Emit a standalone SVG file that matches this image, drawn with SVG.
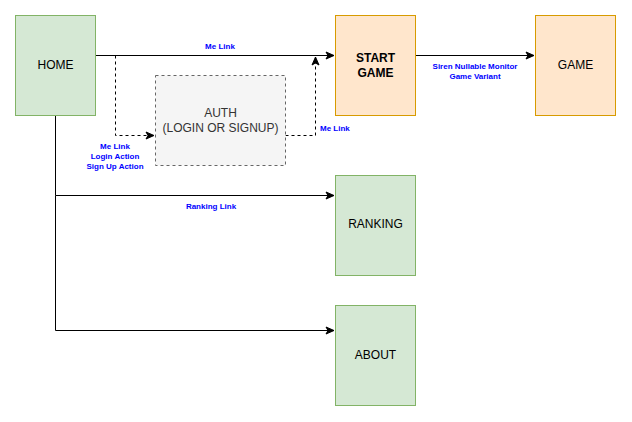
<svg xmlns="http://www.w3.org/2000/svg" width="632" height="422" viewBox="0 0 632 422">
<style>
.green{fill:#d5e8d4;stroke:#82b366;stroke-width:1}
.orange{fill:#ffe6cc;stroke:#d79b00;stroke-width:1}
.gray{fill:#f5f5f5;stroke:#666666;stroke-width:1;stroke-dasharray:3 3}
.nt{font-family:"Liberation Sans",Arial,sans-serif;font-size:12px;fill:#000;text-anchor:middle}
.b{font-weight:bold}
.gt{fill:#333333}
.lbl{font-family:"Liberation Sans",Arial,sans-serif;font-size:8px;font-weight:bold;fill:#0000ff;text-anchor:middle}
.e{fill:none;stroke:#000;stroke-width:1}
.d{stroke-dasharray:3 3}
</style>
<defs>
<marker id="arr" markerUnits="userSpaceOnUse" markerWidth="10" markerHeight="10" viewBox="0 0 10 10" refX="9" refY="5" orient="auto">
<path d="M1,1.5 L9,5 L1,8.5 L3,5 Z" fill="#000" stroke="#000" stroke-width="1"/>
</marker>
</defs>
<g id="connectors">
<path class="e" d="M95.5,55.5 H334" marker-end="url(#arr)"/>
<path class="e d" d="M115.5,55.5 V135.5 H154" marker-end="url(#arr)"/>
<path class="e d" d="M285.5,135.5 H315.5 V57" marker-end="url(#arr)"/>
<path class="e" d="M415.5,55.5 H534" marker-end="url(#arr)"/>
<path class="e" d="M55.5,115.5 V195.5 H334" marker-end="url(#arr)"/>
<path class="e" d="M55.5,195.5 V330.5 H334" marker-end="url(#arr)"/>
<text class="lbl" x="220" y="49">Me Link</text>
<text class="lbl" x="115" y="149">Me Link</text>
<text class="lbl" x="115" y="159">Login Action</text>
<text class="lbl" x="115" y="169">Sign Up Action</text>
<text class="lbl" x="320" y="131" style="text-anchor:start">Me Link</text>
<text class="lbl" x="475" y="69">Siren Nullable Monitor</text>
<text class="lbl" x="475" y="79">Game Variant</text>
<text class="lbl" x="211" y="209">Ranking Link</text>
</g>
<g id="home">
<rect class="green" x="15.5" y="15.5" width="80" height="100"/>
<text class="nt" x="55.5" y="69">HOME</text>
</g>
<g id="start-game">
<rect class="orange" x="335.5" y="15.5" width="80" height="100"/>
<text class="nt b" x="375.5" y="62">START</text>
<text class="nt b" x="375.5" y="77">GAME</text>
</g>
<g id="game">
<rect class="orange" x="535.5" y="15.5" width="80" height="100"/>
<text class="nt" x="575.5" y="69">GAME</text>
</g>
<g id="auth">
<rect class="gray" x="155.5" y="75.5" width="130" height="90"/>
<text class="nt gt" x="220.5" y="117">AUTH</text>
<text class="nt gt" x="220.5" y="132">(LOGIN OR SIGNUP)</text>
</g>
<g id="ranking">
<rect class="green" x="335.5" y="175.5" width="80" height="100"/>
<text class="nt" x="375.5" y="228">RANKING</text>
</g>
<g id="about">
<rect class="green" x="335.5" y="305.5" width="80" height="100"/>
<text class="nt" x="375.5" y="359">ABOUT</text>
</g>
</svg>
